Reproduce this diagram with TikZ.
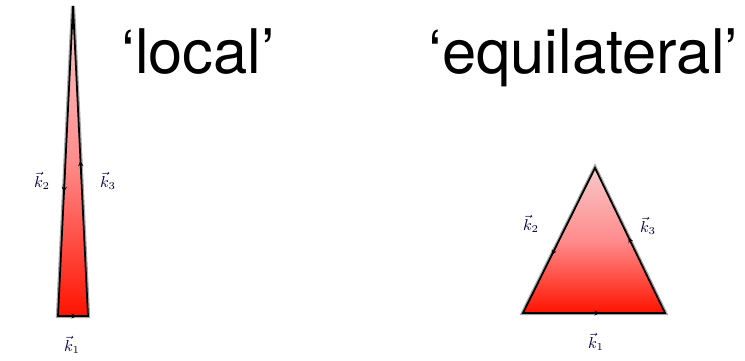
\documentclass[tikz,border=0pt]{standalone}
\usepackage{amsmath}
\usepackage{fontspec}
\setmainfont{TeX Gyre Heros}
\usepackage{tikz}
\usetikzlibrary{positioning, calc, arrows.meta}

\begin{document}
\begin{tikzpicture}[x=0.02cm, y=-0.02cm,
    tri/.style={top color=gray!25!red!25, bottom color=red!85!orange,
                middle color=red!45, draw=black, line width=1pt, line join=miter},
    halo/.style={draw=black!35, line width=2.4pt, line join=miter},
    title/.style={font=\fontsize{35}{40}\selectfont, anchor=base west, inner sep=0pt},
    klab/.style={font=\small, text=blue!25!black, inner sep=1pt},
    karw/.style={-{Stealth[length=3pt,width=3pt]}, line width=0.5pt},
]
\useasboundingbox (0,0) rectangle (745,361);

% local shape
\coordinate (lt) at (73,6);
\coordinate (ll) at (58,316);
\coordinate (lr) at (88,316);
\draw[halo] (lt) -- (ll) -- (lr) -- cycle;
\draw[tri] (lt) -- (ll) -- (lr) -- cycle;

% equilateral shape
\coordinate (et) at (595,168);
\coordinate (el) at (523,313);
\coordinate (er) at (665,313);
\draw[halo] (et) -- (el) -- (er) -- cycle;
\draw[tri] (et) -- (el) -- (er) -- cycle;

% momentum arrows
\draw[karw] ($(ll)!0.44!(lr)$) -- ($(ll)!0.62!(lr)$);
\draw[karw] ($(lt)!0.54!(ll)$) -- ($(lt)!0.6!(ll)$);
\draw[karw] ($(lr)!0.44!(lt)$) -- ($(lr)!0.5!(lt)$);
\draw[karw] ($(el)!0.46!(er)$) -- ($(el)!0.54!(er)$);
\draw[karw] ($(et)!0.52!(el)$) -- ($(et)!0.6!(el)$);
\draw[karw] ($(er)!0.44!(et)$) -- ($(er)!0.52!(et)$);

% labels
\node[klab] (lk1) at (72,345) {$\vec{k}_1$};
\node[klab] (lk2) at (42,181) {$\vec{k}_2$};
\node[klab] (lk3) at (108,181) {$\vec{k}_3$};
\node[klab] (ek1) at (596,342) {$\vec{k}_1$};
\node[klab] (ek2) at (531,224) {$\vec{k}_2$};
\node[klab] (ek3) at (648,226) {$\vec{k}_3$};

\node[title] (loc) at (121,74) {‘local’};
\node[title] (equi) at (428,74) {‘equilateral’};
\end{tikzpicture}
\end{document}
